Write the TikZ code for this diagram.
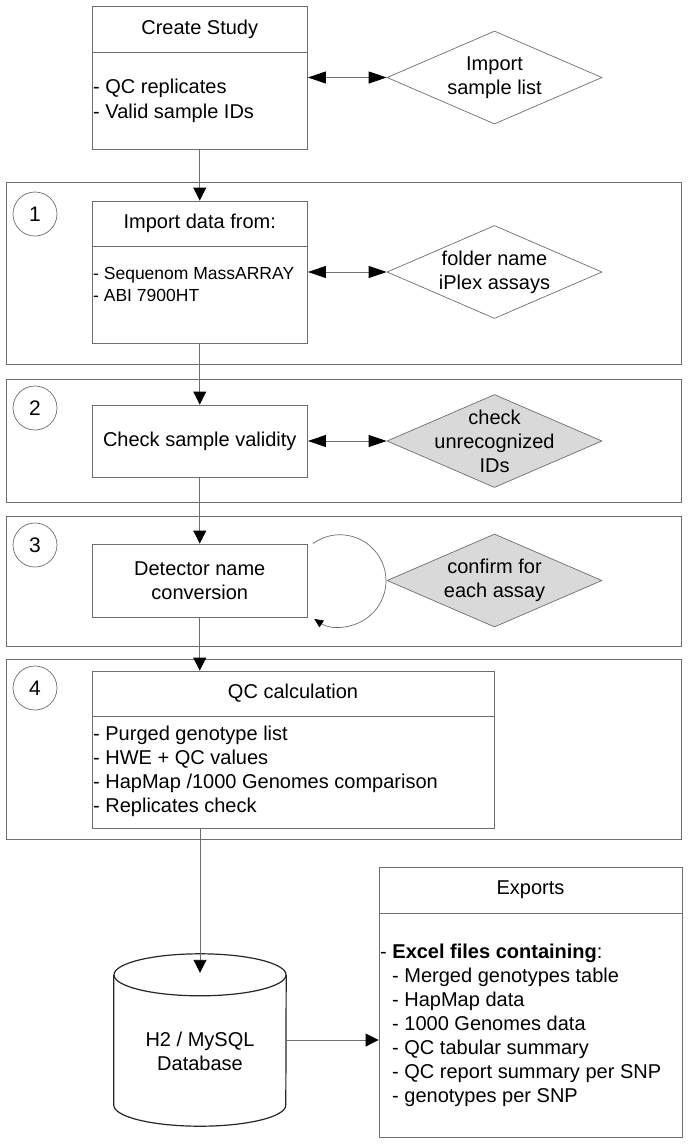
\documentclass[tikz,border=0pt]{standalone}
\usepackage{fontspec}
\setmainfont{Liberation Sans}
\usetikzlibrary{arrows.meta,shapes.geometric}

\definecolor{linegray}{RGB}{110,110,110}
\definecolor{diagray}{RGB}{217,217,217}

\begin{document}
\begin{tikzpicture}[x=1pt,y=1pt,
	font=\fontsize{20}{24}\selectfont,
	box/.style={draw=linegray,line width=0.9pt,inner sep=0pt,minimum width=215.5pt},
	frame/.style={draw=linegray,line width=0.9pt},
	dbline/.style={draw=black!85,line width=1.2pt},
	dia/.style={diamond,draw=linegray,line width=0.7pt,minimum width=215pt,minimum height=93pt,inner sep=0pt},
	graydia/.style={dia,fill=diagray},
	stepnum/.style={circle,draw=linegray,line width=0.7pt,minimum size=44pt,inner sep=0pt,font=\fontsize{21}{24}\selectfont},
	lst/.style={anchor=west,align=left,inner sep=1pt},
	arr/.style={draw=linegray,line width=0.9pt,-{Triangle[length=13pt,width=13pt,black]}},
	dbl/.style={draw=linegray,line width=0.9pt,{Triangle[length=18pt,width=12pt,black]}-{Triangle[length=18pt,width=12pt,black]}}]

	\fill[white] (0,0) rectangle (688,-1144);
	\useasboundingbox (0,0) rectangle (688,-1144);

	% step frames and numbers
	\foreach \top/\bot/\num/\cy in {182/364/1/214,379/502/2/408,516/646/3/545,659/839/4/688}{
		\draw[frame] (6,-\top) rectangle (681,-\bot);
		\node[stepnum] (s\num) at (35,-\cy) {\num};
	}

	% create study
	\node[box,minimum height=143pt] (study) at (199.75,-77.5) {};
	\draw[frame] (92,-52) -- (307.5,-52);
	\node at (199.75,-29) {Create Study};
	\node[lst] at (92,-100.5) {- QC replicates\\[1pt]- Valid sample IDs};
	\node[dia] (samples) at (494.5,-77.5) {};
	\node[align=center] at (samples) {Import\\sample list};
	\draw[dbl] (study) -- (samples);

	% 1
	\node[box,minimum height=142pt] (import) at (199.75,-272) {};
	\draw[frame] (92,-246) -- (307.5,-246);
	\node at (199.75,-223.5) {Import data from:};
	\node[lst,font=\fontsize{17.5}{22}\selectfont] at (92,-284) {- Sequenom MassARRAY\\- ABI 7900HT};
	\node[dia] (folder) at (494.5,-272) {};
	\node[align=center] at (folder) {folder name\\iPlex assays};
	\draw[dbl] (import) -- (folder);

	% 2
	\node[box,minimum height=72pt] (check) at (199.75,-441) {Check sample validity};
	\node[graydia] (ids) at (494.5,-441) {};
	\node[align=center] at (ids) {check\\unrecognized\\IDs};
	\draw[dbl] (check) -- (ids);

	% 3
	\node[box,minimum height=73pt,align=center] (detect) at (199.75,-580.5) {Detector name\\conversion};
	\node[graydia] (confirm) at (494.5,-580.5) {};
	\node[align=center] at (confirm) {confirm for\\each assay};
	\draw[draw=linegray,line width=0.7pt,-{Triangle[length=9pt,width=8pt,black]}] ([xshift=5pt]detect.north east) arc[start angle=126,end angle=-124,radius=46pt];

	% 4
	\node[box,minimum width=402pt,minimum height=157pt] (qc) at (293,-749.5) {};
	\draw[frame] (92,-716) -- (494,-716);
	\node at (293,-693.5) {QC calculation};
	\node[lst] at (92,-771.5) {- Purged genotype list\\- HWE + QC values\\- HapMap /1000 Genomes comparison\\- Replicates check};

	\draw[arr] (study) -- (import);
	\draw[arr] (import) -- (check);
	\draw[arr] (check) -- (detect);
	\draw[arr] (detect.south) -- (detect.south |- qc.north);

	% database
	\node[minimum width=172pt,minimum height=172pt,inner sep=0pt] (db) at (200,-1040) {};
	\draw[dbline] ([yshift=-21pt]db.north west) -- ([yshift=21pt]db.south west)
		arc[start angle=180,end angle=360,x radius=86pt,y radius=21pt] -- ([yshift=-21pt]db.north east);
	\draw[dbline] ([yshift=-21pt]db.north) ellipse [x radius=86pt,y radius=21pt];
	\node[align=center] at (200,-1051) {H2 / MySQL\\Database};
	\draw[arr] (qc.south -| db.north) -- ([yshift=-19pt]db.north);

	% exports
	\node[box,minimum width=303pt,minimum height=270pt] (exports) at (530.5,-1002) {};
	\draw[frame] (379,-913) -- (682,-913);
	\node at (530.5,-890) {Exports};
	\node[lst] at (379,-1025) {- \textbf{Excel files containing}:\\
		\hspace*{12pt}- Merged genotypes table\\
		\hspace*{12pt}- HapMap data\\
		\hspace*{12pt}- 1000 Genomes data\\
		\hspace*{12pt}- QC tabular summary\\
		\hspace*{12pt}- QC report summary per SNP\\
		\hspace*{12pt}- genotypes per SNP};
	\draw[arr] (db.east) -- (db.east -| exports.west);
\end{tikzpicture}
\end{document}
